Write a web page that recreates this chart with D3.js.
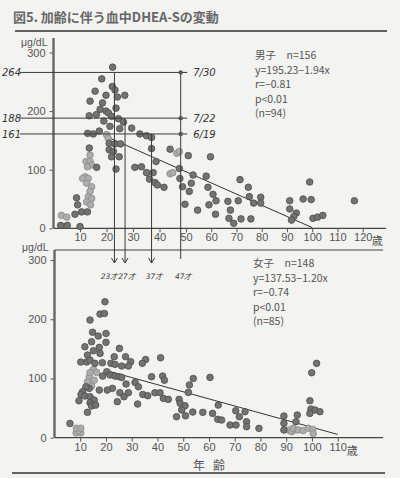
<!DOCTYPE html>
<html><head><meta charset="utf-8">
<script src="https://cdn.jsdelivr.net/npm/d3@7"></script>
<style>
html,body{margin:0;padding:0;background:#f3f3f1;}
svg{display:block;}
text{font-family:"Liberation Sans","Noto Sans CJK JP",sans-serif;fill:#555;}
.jp{font-family:"Noto Sans CJK JP",sans-serif;}
.hand{font-family:"DejaVu Sans",sans-serif;font-style:italic;fill:#333;}
</style></head>
<body>
<script>
// ---------- DATA ----------
const title = "図5. 加齢に伴う血中DHEA-Sの変動";
const yTicks = [0, 100, 200, 300];
const xTicksMale = [10,20,30,40,50,60,70,80,90,100,110,120];
const xTicksFemale = [10,20,30,40,50,60,70,80,90,100,110];
const unitLabel = "μg/dL";
const ageLabel = ["年","齢"];

const maleStats = ["男子　n=156","y=195.23−1.94x","r=−0.81","p<0.01","(n=94)"];
const femaleStats = ["女子　n=148","y=137.53−1.20x","r=−0.74","p<0.01","(n=85)"];
const maleFit = {a:195.23, b:-1.94, from:20, to:100};
const femaleFit = {a:137.53, b:-1.20, from:20, to:110};

// male: [age, DHEA-S]
const maleDark = [[22.3,275],[18.2,255],[22.2,242],[23.2,236],[15.7,234],[24.1,224],[26.9,227],[19.8,227],[13.8,217],[18.5,214],[23.6,205],[17.6,203],[19.8,200],[20.7,197],[13.5,192],[16.2,194],[21.9,191],[19,183],[24.5,187],[26.4,181],[29.5,171],[25,170],[21.3,174],[12.9,162],[15,161],[17.3,166],[32.6,161],[35.1,158],[37,155],[37,136],[44,135],[50.9,124],[21,145],[23.2,144],[25.3,144],[21,134],[22.6,131],[24.8,122],[21.9,122],[23.6,101],[13.5,137],[16.3,104],[30.7,104],[33.2,105],[38.7,114],[35.1,95],[37.6,95],[36.2,84],[38.3,78],[39.2,74],[41.7,70],[52.8,91],[47.5,102],[47.7,85],[48.7,71],[51.3,63],[52.1,77],[49.6,41],[54.6,31],[8.7,52],[9.1,40],[10.6,28],[8.1,24],[12.8,28],[2.7,5],[5.2,5],[10,3],[59.7,122],[58,89],[58.7,70],[60.7,58],[61.9,47],[59.1,40],[61.7,24],[67,17],[68.9,8.5],[71.8,16],[75.7,16],[67.6,31],[66.6,46],[70.7,47],[71.4,83],[74.7,70],[75.1,54],[76.8,43],[79.6,53],[79.6,43],[91.1,47],[91.1,33],[93.7,26],[92.7,20],[91.8,14],[96.4,50],[99.6,49],[99,79],[100.3,17],[102.1,19],[104.2,22],[116.7,47]];
const maleLight = [[3,22],[5,19],[20,160],[20.6,154],[13.8,125],[12.3,114],[13.8,114],[14.4,108],[12.8,105],[11.9,88],[11,85],[13.1,85],[12.5,77],[14.4,71],[13.8,63],[13.1,54],[14.4,51],[12.5,45],[14,40],[44,93],[45,95],[46.5,128],[47.5,131]];

// female: [age, DHEA-S]
const femaleDark = [[19.6,229.5],[17.7,208.7],[19.4,209.8],[13.8,198.6],[20,176],[20,161],[14.8,178],[17,171.6],[17.4,152.5],[11.8,153.6],[14.4,162],[12.8,139.5],[15.1,146.8],[17.7,142.3],[25.2,150.8],[23.2,136.7],[27.6,136.7],[29.6,128.3],[28.7,121],[26.1,121],[21.9,125.5],[23.5,123.8],[10.2,127.7],[12.5,127.7],[13.8,131],[15.7,125.5],[18.6,126.6],[35.4,132],[34.1,125.5],[41.2,135],[37.7,103],[42,104],[42.7,97],[20.3,111.4],[21.6,105.8],[23.5,104],[25.1,103],[26.1,101.8],[18.7,104],[27.8,90.6],[31.3,93.4],[32.6,86],[22.5,83.3],[20.5,80.4],[17.4,80.4],[13.5,83.3],[12.2,86],[10.9,77.6],[10.3,73],[11.8,70.3],[9.5,62.4],[13.8,69.2],[15.4,63.6],[13.8,59],[14.4,53.4],[16,55],[12.8,42.8],[25.4,76],[27,69.2],[28.7,76],[24.4,60.8],[32.3,56.8],[34.3,73],[36.2,70.9],[39,76],[41,76],[42.3,66.4],[44.2,64.7],[48.4,64.7],[48.8,58],[50.7,54],[49.4,46.7],[47.4,35.4],[50.9,37],[53.7,43.3],[53.9,100],[52.4,89],[52,76.5],[6,24],[101.8,125.5],[99.9,109.7],[99.2,62.4],[99.6,48.4],[101.2,46.7],[103.1,43.9],[99.2,41],[89.1,36.6],[94.3,38.3],[93.8,27],[89.1,24.2],[89.1,13],[57.6,42.8],[60.4,101.8],[61.4,41],[63.6,55],[63.4,31],[64.9,29.8],[68.2,21.4],[70.5,21.4],[70.4,45.6],[71.8,35.4],[74,43.9],[74.6,27],[74.6,18.6],[79.4,15.8]];
const femaleLight = [[8.4,8],[10.2,8],[9.3,12],[8.5,16],[10.2,16],[15.1,115],[16.4,110],[13.5,103],[15.4,97],[14.4,87],[12.8,94.5],[13.8,110],[90.8,13],[92.1,10],[93.4,13],[92.7,16],[94.7,13],[96.6,12],[98.6,16],[100.3,14],[100.5,7]];

// handwritten annotations (values / ages)
const noteLevels = [266, 188, 161];
const noteLevelLabels = ["264","188","161"];
const noteDates = ["7/30","7/22","6/19"];
const noteAges = [23, 27, 37, 48];
const noteAgeStart = [266, 188, 161, 266];
const noteAgeLabels = ["23才","27才","37才","47才"];

// ---------- DRAW ----------
const W = 400, H = 478;
const svg = d3.select("body").append("svg").attr("width", W).attr("height", H);

svg.append("text").attr("class","jp").attr("x",13).attr("y",22)
  .attr("font-size",13).attr("font-weight","bold").style("fill","#666").text(title);
svg.append("line").attr("x1",15).attr("x2",387).attr("y1",31).attr("y2",31)
  .attr("stroke","#333").attr("stroke-width",1.3);
svg.append("line").attr("x1",12).attr("x2",385).attr("y1",473).attr("y2",473)
  .attr("stroke","#333").attr("stroke-width",1.6);

function panel(opt){
  const g = svg.append("g");
  const x = d3.scaleLinear().domain(opt.xDom).range(opt.xRng);
  const y = d3.scaleLinear().domain([0,300]).range(opt.yRng);
  g.append("line").attr("x1",x(0)).attr("x2",x(0)).attr("y1",y(0)).attr("y2",opt.yTop)
    .attr("stroke","#666").attr("stroke-width",2.4);
  g.append("line").attr("x1",x(0)).attr("x2",opt.xEnd).attr("y1",y(0)).attr("y2",y(0))
    .attr("stroke","#444").attr("stroke-width",1.2);
  if (opt.topBorder) g.append("line").attr("x1",x(0)).attr("x2",opt.xEnd).attr("y1",opt.yTop).attr("y2",opt.yTop)
    .attr("stroke","#444").attr("stroke-width",1.2);
  const xa = d3.axisBottom(x).tickValues(opt.xTicks).tickSize(4).tickFormat(d3.format("d"));
  const gx = g.append("g").attr("transform",`translate(0,${y(0)})`).call(xa);
  gx.select(".domain").remove();
  gx.selectAll(".tick line").attr("stroke","#555");
  gx.selectAll(".tick text").attr("font-size",11).attr("dy","0.55em").style("fill","#555")
    .style("font-family","'Liberation Sans',sans-serif");
  const last = opt.xTicks[opt.xTicks.length-1];
  g.append("text").attr("class","jp").attr("x",x(last)+9).attr("y",y(0)+17)
    .attr("font-size",11).text("歳");
  const ya = d3.axisLeft(y).tickValues(yTicks).tickSize(3);
  const gy = g.append("g").attr("transform",`translate(${x(0)-1},0)`).call(ya);
  gy.select(".domain").remove();
  gy.selectAll(".tick line").attr("stroke","#555");
  gy.selectAll(".tick text").attr("font-size",11).attr("x",-7).style("fill","#555")
    .style("font-family","'Liberation Sans',sans-serif");
  g.append("text").attr("x",x(0)-6).attr("y",opt.unitY).attr("text-anchor","end")
    .attr("font-size",10.5).text(unitLabel);
  const f = opt.fit;
  g.append("line").attr("x1",x(f.from)).attr("y1",y(f.a+f.b*f.from))
    .attr("x2",x(f.to)).attr("y2",y(Math.max(0,f.a+f.b*f.to)))
    .attr("stroke","#333").attr("stroke-width",1);
  g.selectAll("circle.l").data(opt.light).join("circle").attr("class","l")
    .attr("cx",d=>x(d[0])).attr("cy",d=>y(d[1])).attr("r",3.3)
    .attr("fill","#adadad").attr("stroke","#8a8a8a").attr("stroke-width",0.8);
  g.selectAll("circle.d").data(opt.dark).join("circle").attr("class","d")
    .attr("cx",d=>x(d[0])).attr("cy",d=>y(d[1])).attr("r",3.3)
    .attr("fill","#737373").attr("stroke","#4d4d4d").attr("stroke-width",0.8);
  g.selectAll("text.st").data(opt.stats).join("text").attr("class","st jp")
    .attr("x",opt.statX).attr("y",(d,i)=>opt.statY + i*14.6).attr("font-size",10.5)
    .style("fill","#555").text(d=>d);
  return {x,y,g};
}

const topP = panel({xDom:[0,50,120], xRng:[53.5,186,362.7], yRng:[228.3,52.5], yTop:38, xEnd:386,
  xTicks:xTicksMale, fit:maleFit, dark:maleDark, light:maleLight, stats:maleStats,
  statX:255, statY:59, unitY:46, topBorder:false});
const botP = panel({xDom:[0,110], xRng:[54.5,337.7], yRng:[437.7,260], yTop:250, xEnd:383,
  xTicks:xTicksFemale, fit:femaleFit, dark:femaleDark, light:femaleLight, stats:femaleStats,
  statX:253, statY:267, unitY:251, topBorder:true});

svg.append("text").attr("class","jp").attr("x",193).attr("y",470).attr("font-size",12).text(ageLabel[0]);
svg.append("text").attr("class","jp").attr("x",213).attr("y",470).attr("font-size",12).text(ageLabel[1]);

// ---------- handwritten annotations ----------
const ann = svg.append("g").attr("stroke","#3a3a3a").attr("stroke-width",1).attr("fill","none");
const xEndAge = 50.5;
noteLevels.forEach((v,i)=>{
  ann.append("line").attr("x1",20).attr("x2",topP.x(xEndAge)).attr("y1",topP.y(v)).attr("y2",topP.y(v));
  svg.append("text").attr("class","hand").attr("x",2).attr("y",topP.y(v)+4).attr("font-size",10).text(noteLevelLabels[i]);
  svg.append("text").attr("class","hand").attr("x",topP.x(xEndAge)+6).attr("y",topP.y(v)+4).attr("font-size",10).text(noteDates[i]);
  svg.append("circle").attr("cx",topP.x(noteAges[3])).attr("cy",topP.y(v)).attr("r",2.2).attr("fill","#555");
});
const arrowEnd = 263;
const labelDx = [-5, 2, 3, 3];
noteAges.forEach((ag,i)=>{
  const xx = topP.x(ag);
  const end = i<3 ? arrowEnd : arrowEnd-4;
  ann.append("line").attr("x1",xx).attr("x2",xx).attr("y1",topP.y(noteAgeStart[i])).attr("y2",end);
  if(i<3){
    ann.append("path").attr("d",`M${xx-3},${end-5}L${xx},${end}L${xx+3},${end-5}`);
  }
  svg.append("text").attr("class","hand jp").attr("x",xx+labelDx[i]).attr("y",279).attr("text-anchor","middle")
    .attr("font-size",7.5).style("fill","#333").text(noteAgeLabels[i]);
});
</script>
</body></html>
